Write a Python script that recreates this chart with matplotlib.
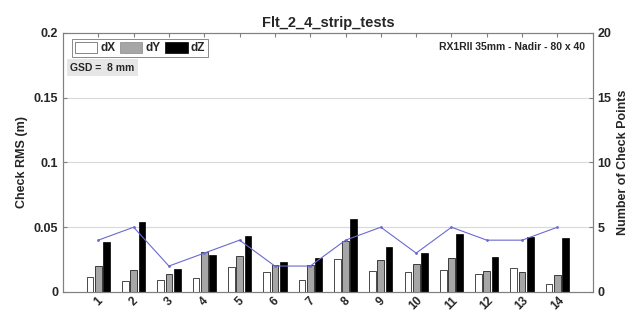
import numpy as np
import matplotlib.pyplot as plt
from matplotlib.patches import Patch

# Check RMS per flight (m)
flights = [str(i) for i in range(1, 15)]
dX = [0.0115, 0.0082, 0.0089, 0.0107, 0.0191, 0.0153, 0.0092,
      0.0258, 0.0160, 0.0153, 0.0166, 0.0135, 0.0186, 0.0063]
dY = [0.0199, 0.0166, 0.0138, 0.0306, 0.0280, 0.0206, 0.0211,
      0.0390, 0.0250, 0.0214, 0.0265, 0.0158, 0.0153, 0.0130]
dZ = [0.0388, 0.0538, 0.0181, 0.0285, 0.0433, 0.0232, 0.0262,
      0.0566, 0.0344, 0.0298, 0.0451, 0.0273, 0.0426, 0.0415]
n_check = [4, 5, 2, 3, 4, 2, 2, 4, 5, 3, 5, 4, 4, 5]

plt.rcParams['font.family'] = ['Liberation Sans', 'DejaVu Sans']
plt.rcParams['font.weight'] = 'bold'
txt = '#262626'
axc = '#808080'

fig = plt.figure(figsize=(6.36, 3.17), dpi=100)
ax = fig.add_axes([0.099, 0.079, 0.833, 0.817])
x = np.arange(1, len(flights) + 1)
w = 0.19
off = 0.235

for y in [0.05, 0.1, 0.15]:
    ax.axhline(y, color='#d9d9d9', lw=0.8, zorder=0)

ax.bar(x - off, dX, w, color='white', edgecolor='black', lw=0.5, zorder=2)
ax.bar(x, dY, w, color='#a6a6a6', edgecolor='black', lw=0.5, zorder=2)
ax.bar(x + off, dZ, w, color='black', edgecolor='black', lw=0.5, zorder=2)

ax.set_xlim(0, 15)
ax.set_ylim(0, 0.2)
ax.set_yticks([0, 0.05, 0.1, 0.15, 0.2])
ax.set_yticklabels(['0', '0.05', '0.1', '0.15', '0.2'])
ax.set_xticks(x)
ax.set_xticklabels(flights, rotation=45, ha='center')
ax.tick_params(axis='x', direction='in', top=True, length=3, color=axc,
               labelsize=8.5, labelcolor=txt, pad=2)
ax.tick_params(axis='y', direction='in', length=3, color=axc,
               labelsize=9, labelcolor=txt)
ax.set_ylabel('Check RMS (m)', fontsize=9, color=txt, fontweight='bold')
for s in ax.spines.values():
    s.set_color(axc)
    s.set_linewidth(0.8)
ax.set_title('Flt_2_4_strip_tests', fontsize=10.5, color=txt, fontweight='bold', pad=4)

ax2 = ax.twinx()
ax2.plot(x, n_check, color='#6a6ad2', lw=0.8, marker='.', ms=2, zorder=3)
ax2.set_ylim(0, 20)
ax2.set_yticks([0, 5, 10, 15, 20])
ax2.tick_params(axis='y', direction='in', length=3, color=axc,
                labelsize=9, labelcolor=txt)
ax2.set_ylabel('Number of Check Points', fontsize=9, color=txt, fontweight='bold')
for s in ax2.spines.values():
    s.set_color(axc)
    s.set_linewidth(0.8)

handles = [Patch(facecolor='white', edgecolor='#555555', lw=0.5),
           Patch(facecolor='#a6a6a6', edgecolor='#888888', lw=0.5),
           Patch(facecolor='black', edgecolor='black', lw=0.5)]
leg = ax2.legend(handles, ['dX', 'dY', 'dZ'], loc='upper left', ncol=3,
                 bbox_to_anchor=(0.012, 0.985), fontsize=8.5, frameon=True,
                 fancybox=False, edgecolor='#555555', handlelength=1.9,
                 handleheight=1.0, columnspacing=0.4, handletextpad=0.25,
                 borderpad=0.25, borderaxespad=0.2)
leg.get_frame().set_linewidth(0.6)
for t in leg.get_texts():
    t.set_color(txt)

ax2.text(0.014, 0.885, 'GSD =  8 mm', transform=ax.transAxes, fontsize=7.5,
         color=txt, fontweight='bold', va='top', ha='left',
         bbox=dict(facecolor='#e6e6e6', edgecolor='none', pad=2.5))
ax2.text(0.985, 0.965, 'RX1RII 35mm - Nadir - 80 x 40', transform=ax.transAxes,
         fontsize=7.5, color=txt, fontweight='bold', va='top', ha='right')

fig.savefig('out.png', dpi=100)
